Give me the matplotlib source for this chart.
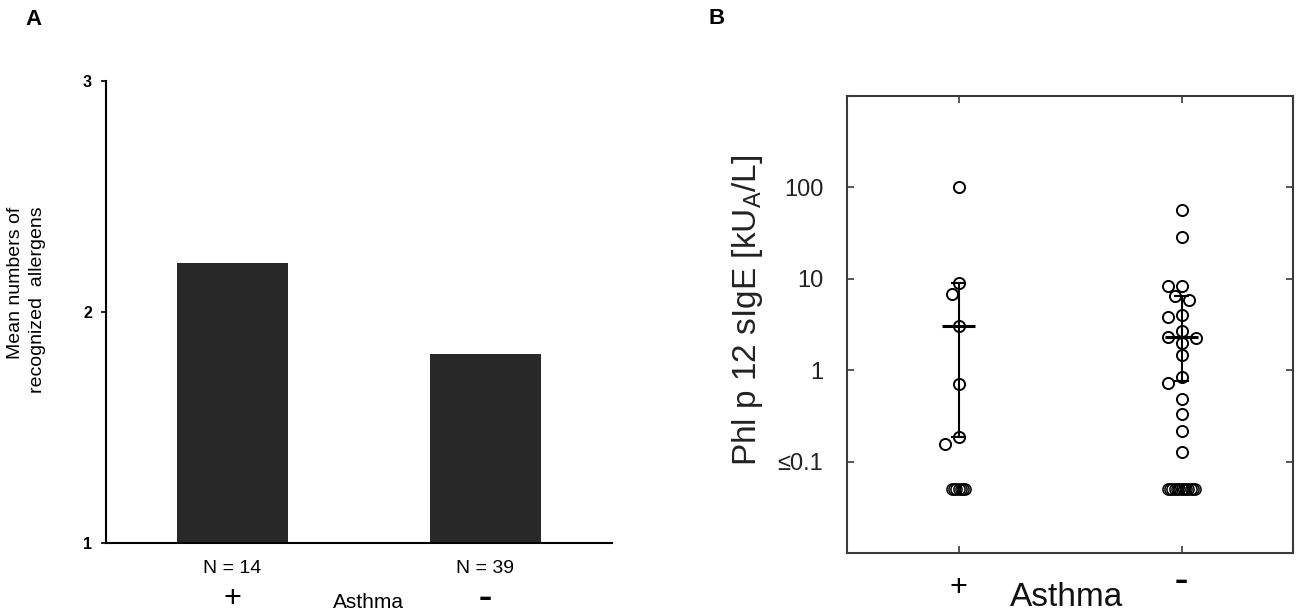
import matplotlib
matplotlib.use("Agg")
import matplotlib.pyplot as plt
import numpy as np
from matplotlib import transforms
from matplotlib.ticker import NullLocator

plt.rcParams['font.family'] = ['Liberation Sans', 'DejaVu Sans']
plt.rcParams['mathtext.fontset'] = 'custom'
plt.rcParams['mathtext.rm'] = 'Liberation Sans'

# ---- panel A data ----
group_labels = ['N = 14', 'N = 39']
asthma_signs = ['+', '\u2013']
mean_allergens = [2.21, 1.82]

# ---- panel B data (Phl p 12 sIgE, kUA/L) ----
pos_sige = [100, 8.9, 6.8, 3.07, 0.71, 0.188, 0.156]
neg_sige = [57, 28.5, 8.4, 8.4, 6.5, 5.9, 4.0, 3.8, 2.66, 2.3, 2.27, 2.0,
            1.45, 0.84, 0.73, 0.48, 0.33, 0.215, 0.128]
below_lod = [7, 13]        # samples <= 0.1, drawn on one row
lod_value = 0.05
medians = [3.07, 2.3]
whisk_low = [0.185, 0.76]
whisk_high = [8.9, 6.5]
yticks_b = [0.1, 1, 10, 100]
yticklabels_b = ['\u22640.1', '1', '10', '100']

W, H = 1299, 613
fig = plt.figure(figsize=(W / 100, H / 100), dpi=100)


def px_box(l, t, r, b):
    return [l / W, 1 - b / H, (r - l) / W, (b - t) / H]


def fy(px):
    return 1 - px / H


dash_font = dict(family='DejaVu Sans', fontweight='bold', fontsize=19)

# ================= Panel A =================
axA = fig.add_axes(px_box(105.7, 80.7, 611.7, 543.3))
xa = np.arange(len(mean_allergens))
axA.bar(xa, mean_allergens, width=0.44, color='#282828')
axA.set_xlim(-0.5, 1.5)
axA.set_ylim(1, 3)
for s in ['top', 'right']:
    axA.spines[s].set_visible(False)
for s in ['left', 'bottom']:
    axA.spines[s].set_linewidth(1.5)
axA.set_yticks([1, 2, 3])
axA.tick_params(axis='y', direction='out', length=3.4, width=1.2, pad=6.5,
                labelsize=11.5)
for lab in axA.get_yticklabels():
    lab.set_fontweight('bold')
axA.set_xticks(xa, group_labels)
axA.tick_params(axis='x', length=0, pad=12, labelsize=14)
axA.set_ylabel('Mean numbers of\nrecognized  allergens', fontsize=14,
               linespacing=1.45, multialignment='right')
axA.yaxis.set_label_coords(-0.117, 0.526)

tA = transforms.blended_transform_factory(axA.transData, fig.transFigure)
fig.text(xa[0], fy(606.5), asthma_signs[0], transform=tA, fontsize=22,
         ha='center', va='baseline')
fig.text(xa[1], fy(606.5), asthma_signs[1], transform=tA, ha='center',
         va='baseline', **dash_font)
fig.text(368 / W, fy(608.3), 'Asthma', fontsize=15, ha='center',
         va='baseline')
fig.text(25 / W, fy(25), 'A', fontsize=16, fontweight='bold', va='baseline')

# ================= Panel B =================
axB = fig.add_axes(px_box(847, 96, 1293, 553))
axB.set_yscale('log')
axB.set_ylim(0.01, 1000)
axB.set_xlim(0.5, 2.5)
for s in axB.spines.values():
    s.set_linewidth(1.5)
    s.set_color('#3a3a3a')
axB.set_yticks(yticks_b, yticklabels_b)
axB.yaxis.set_minor_locator(NullLocator())
axB.set_xticks([1, 2], ['', ''])
axB.tick_params(axis='both', direction='in', length=5, width=1.2,
                top=True, right=True, color='#3a3a3a')
axB.tick_params(axis='y', pad=17, labelsize=17, labelcolor='#222222')
axB.set_ylabel(r'Phl p 12 sIgE [kU$_{\mathrm{A}}$/L]', fontsize=24,
               color='#222222')
axB.yaxis.set_label_coords(-0.184, 0.531)


def swarm(ax, xc, values, step=7.0, min_dist=11.0):
    # greedy swarm in pixel space, slots of half a marker
    placed = []
    out = []
    for v in values:
        ypx = ax.transData.transform((xc, v))[1]
        for k in [0, -1, 1, -2, 2, -3, 3, -4, 4, -5, 5]:
            dx = k * step
            if all(np.hypot(dx - px, ypx - py) >= min_dist for px, py in placed):
                break
        placed.append((dx, ypx))
        out.append(dx)
    ppu = ax.transData.transform((1, 1))[0] - ax.transData.transform((0, 1))[0]
    return xc + np.array(out) / ppu


ppu = axB.transData.transform((1, 1))[0] - axB.transData.transform((0, 1))[0]
mk = dict(marker='o', ms=8, mfc='none', mec='black', mew=1.4, ls='none')
for i, vals in enumerate([pos_sige, neg_sige]):
    xc = i + 1
    xs = swarm(axB, xc, vals)
    axB.plot(xs, vals, **mk)
    n = below_lod[i]
    lx = xc + (np.arange(n) - (n - 1) / 2) * 2.3 / ppu
    axB.plot(lx, np.full(n, lod_value), marker='o', ms=8, mfc='none',
             mec='black', mew=1.1, ls='none')
    # range bar + median
    axB.vlines(xc, whisk_low[i], whisk_high[i], color='black', lw=1.5)
    axB.hlines([whisk_low[i], whisk_high[i]], xc - 0.034, xc + 0.034,
               color='black', lw=1.5)
    axB.hlines(medians[i], xc - 0.076, xc + 0.076, color='black', lw=2.2)

tB = transforms.blended_transform_factory(axB.transData, fig.transFigure)
fig.text(1, fy(595.7), asthma_signs[0], transform=tB, fontsize=22,
         ha='center', va='baseline')
fig.text(2, fy(589), asthma_signs[1], transform=tB, ha='center',
         va='baseline', **dash_font)
fig.text(1067 / W, fy(605.5), 'Asthma', fontsize=24, ha='center',
         va='baseline', color='#111111')
fig.text(708 / W, fy(23.5), 'B', fontsize=16, fontweight='bold',
         va='baseline')

fig.savefig('out.png', dpi=100)
